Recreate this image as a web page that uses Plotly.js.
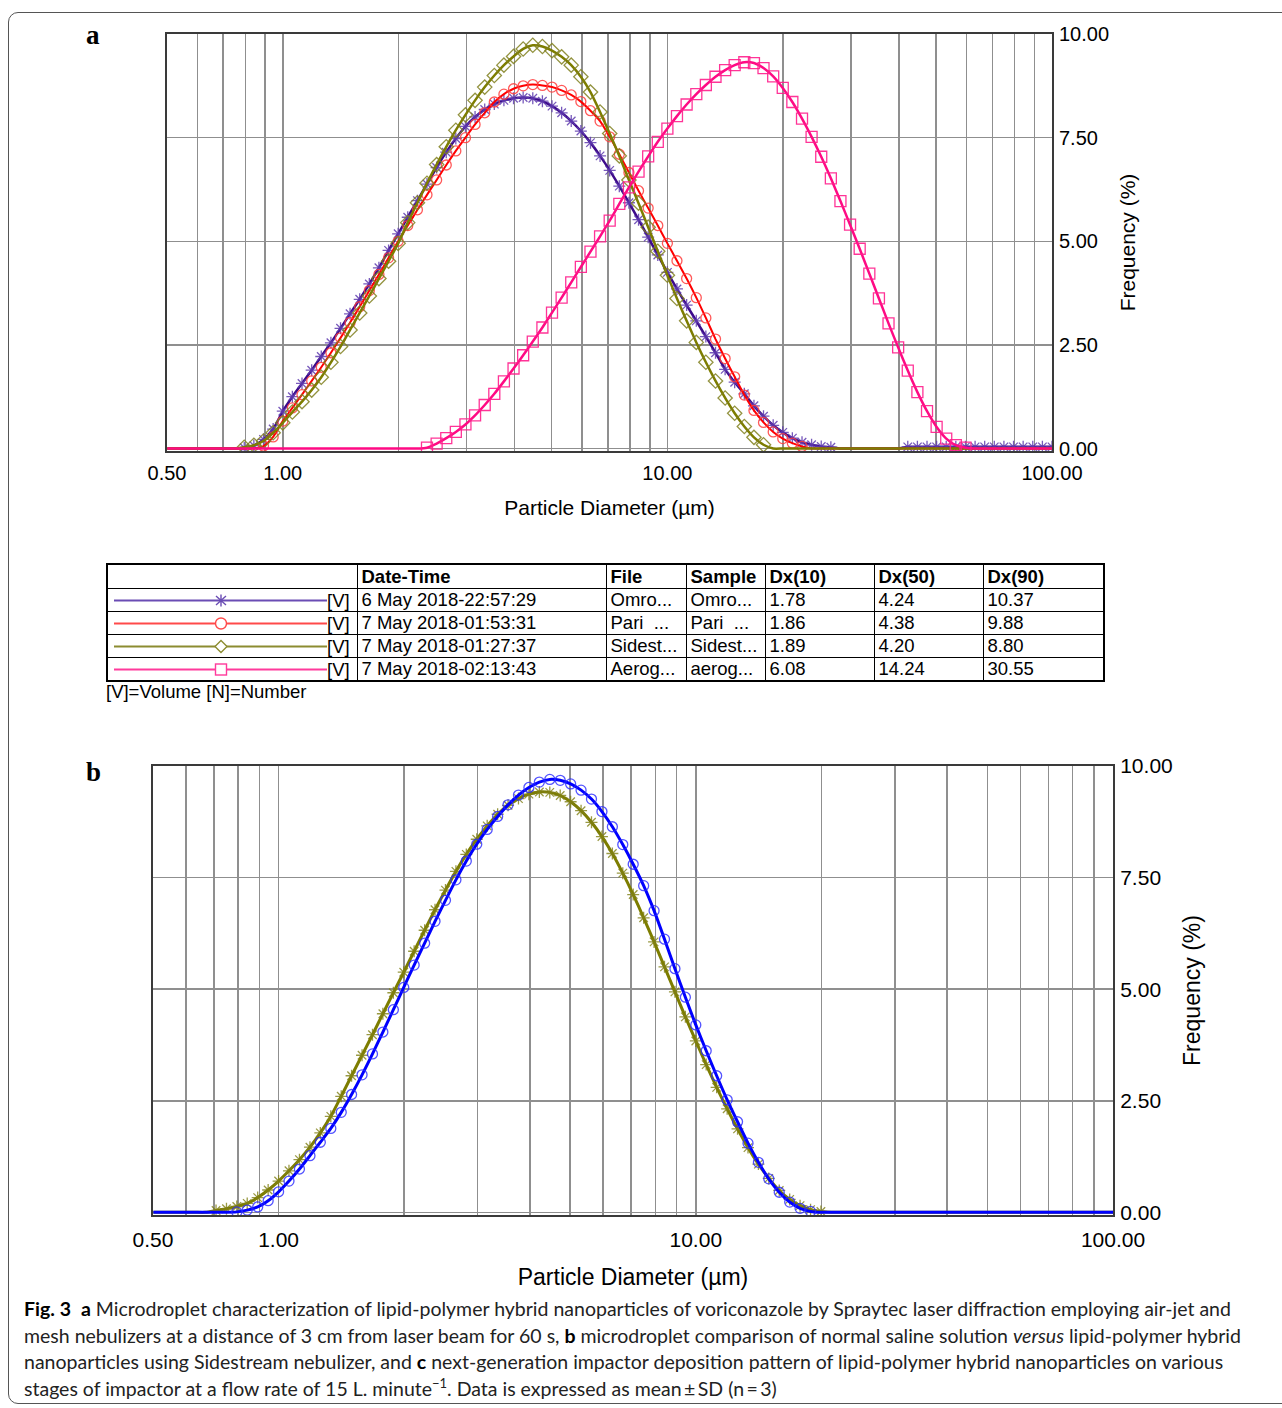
<!DOCTYPE html>
<html>
<head>
<meta charset="utf-8">
<script src="https://cdn.plot.ly/plotly-3.0.1.min.js"></script>
<style>
  html, body { margin:0; padding:0; background:#fff; width:1282px; height:1408px; overflow:hidden; }
  #frame { position:absolute; left:8px; top:12px; width:1300px; height:1392px; border:1.5px solid #555; border-radius:10px; box-sizing:border-box; }
  .panel { position:absolute; font-family:"Liberation Serif", serif; font-weight:bold; font-size:27px; color:#000; }
  #chartA { position:absolute; left:0; top:0; width:1282px; height:540px; }
  #chartB { position:absolute; left:0; top:740px; width:1282px; height:560px; }
  #tbl { position:absolute; left:106px; top:563px; width:997px; table-layout:fixed; border-collapse:collapse; font-family:"Liberation Sans", Arial, sans-serif; font-size:18.5px; color:#000; border:2px solid #000; }
  #tbl td { border:1.5px solid #000; padding:0 0 0 4px; height:22px; line-height:20px; white-space:nowrap; overflow:hidden; }
  #tbl tr.hd td { font-weight:bold; height:23px; }
  #tbl td.lg { padding:0; }
  #note { position:absolute; left:106px; top:681px; font-family:"Liberation Sans", Arial, sans-serif; font-size:18.5px; }
  #caption { position:absolute; left:24px; top:1296px; font-family:Lato, "Open Sans", sans-serif; font-size:19.5px; line-height:26.7px; color:#222; white-space:nowrap; }
  #caption b { font-weight:bold; color:#000; }
  #caption sup { font-size:13px; line-height:0; vertical-align:baseline; position:relative; top:-8px; }
</style>
</head>
<body>
<div id="frame"></div>
<div id="chartA"></div>
<div id="chartB"></div>
<div class="panel" style="left:86px; top:20px;">a</div>
<div class="panel" style="left:86px; top:757px;">b</div>
<table id="tbl"></table>
<div id="note">[V]=Volume [N]=Number</div>
<div id="caption"><b>Fig. 3</b>&nbsp; <b>a</b> Microdroplet characterization of lipid-polymer hybrid nanoparticles of voriconazole by Spraytec laser diffraction employing air-jet and<br>mesh nebulizers at a distance of 3 cm from laser beam for 60 s, <b>b</b> microdroplet comparison of normal saline solution <i>versus</i> lipid-polymer hybrid<br>nanoparticles using Sidestream nebulizer, and <b>c</b> next-generation impactor deposition pattern of lipid-polymer hybrid nanoparticles on various<br>stages of impactor at a flow rate of 15 L. minute<sup>−1</sup>. Data is expressed as mean&thinsp;±&thinsp;SD (n&thinsp;=&thinsp;3)</div>
<script>
// ---------- DATA ----------
// particle diameter size classes (µm)
const diameters = [0.501,0.531,0.562,0.596,0.631,0.668,0.708,0.750,0.794,0.841,0.891,0.944,
1.000,1.059,1.122,1.189,1.259,1.334,1.413,1.496,1.585,1.679,1.778,1.884,1.995,2.113,2.239,2.371,2.512,2.661,2.818,2.985,3.162,3.350,3.548,3.758,3.981,4.217,4.467,4.732,5.012,5.309,5.623,5.957,6.310,6.683,7.079,7.499,7.943,8.414,8.913,9.441,
10.00,10.59,11.22,11.89,12.59,13.34,14.13,14.96,15.85,16.79,17.78,18.84,19.95,21.13,22.39,23.71,25.12,26.61,28.18,29.85,31.62,33.50,35.48,37.58,39.81,42.17,44.67,47.32,50.12,53.09,56.23,59.57,63.10,66.83,70.79,74.99,79.43,84.14,89.13,94.41,100.0];

// panel a: frequency (%)
const omronA = [0,0,0,0,0,0,0,0, 0.02,0.07,0.22,0.47,
0.90,1.25,1.57,1.89,2.22,2.55,2.90,3.25,3.60,3.97,
4.36,4.78,5.18,5.58,5.98,6.38,6.78,7.15,7.48,7.77,
8.00,8.18,8.31,8.40,8.45,8.47,8.45,8.38,8.26,8.10,
7.90,7.66,7.38,7.06,6.71,6.33,5.93,5.52,5.10,4.67,
4.25,3.85,3.46,3.08,2.70,2.31,1.91,1.60,1.32,1.03,
0.78,0.56,0.39,0.25,0.15,0.09,0.05,0.03,0,0,
0,0,0,0,0,0.04,0.04,0.04,0.04,0.04,
0.04,0.04,0.04,0.04,0.04,0.04,0.04,0.04,0.04,0.04,0.04];

const pariA = [0,0,0,0,0,0,0,0,0,0, 0.06,0.28,
0.66,0.98,1.30,1.63,1.96,2.31,2.67,3.04,3.42,3.81,
4.20,4.60,5.00,5.38,5.76,6.12,6.48,6.84,7.18,7.50,
7.82,8.10,8.36,8.55,8.68,8.75,8.78,8.76,8.72,8.64,
8.53,8.37,8.15,7.90,7.52,7.10,6.66,6.22,5.80,5.38,
4.95,4.53,4.10,3.64,3.15,2.64,2.17,1.73,1.29,0.92,
0.63,0.40,0.24,0.13,0.05,0,0,0,0,0,
0,0,0,0,0,0,0,0,0,0,
0,0,0,0,0,0,0,0,0,0,0];

const sidestreamA = [0,0,0,0,0,0,0,0, 0.03,0.08,0.18,0.38,
0.62,0.88,1.13,1.41,1.72,2.08,2.46,2.86,3.27,3.68,
4.10,4.52,4.95,5.45,5.93,6.40,6.85,7.28,7.68,8.05,
8.40,8.72,9.00,9.25,9.46,9.64,9.73,9.70,9.60,9.45,
9.25,8.97,8.60,8.12,7.60,7.06,6.48,5.92,5.34,4.76,
4.18,3.62,3.08,2.56,2.08,1.63,1.22,0.85,0.53,0.27,
0.09,0,0,0,0,0,0,0,0,0,
0,0,0,0,0,0,0,0,0,0,
0,0,0,0,0,0,0,0,0,0,0];

const aerogenA = [0,0,0,0,0,0,0,0,0,0, 0,0,
0,0,0,0,0,0,0,0,0,0,
0,0,0,0,0,0.02,0.12,0.25,0.40,0.58,
0.80,1.05,1.32,1.62,1.93,2.25,2.58,2.92,3.28,3.64,
4.01,4.38,4.75,5.12,5.50,5.90,6.30,6.68,7.05,7.40,
7.72,8.02,8.30,8.55,8.77,8.97,9.13,9.25,9.32,9.30,
9.18,8.98,8.70,8.36,7.96,7.52,7.04,6.52,5.97,5.40,
4.82,4.22,3.62,3.02,2.44,1.88,1.36,0.90,0.52,0.24,
0.08,0.02,0,0,0,0,0,0,0,0,0];

// panel b: frequency (%)
const salineB = [0,0,0,0,0,0, 0.04,0.08,0.13,0.20,0.33,0.50,
0.70,0.93,1.18,1.46,1.78,2.15,2.60,3.06,3.52,3.98,
4.45,4.92,5.38,5.85,6.32,6.78,7.22,7.64,8.02,8.36,
8.66,8.92,9.12,9.27,9.37,9.42,9.41,9.34,9.20,9.00,
8.74,8.42,8.04,7.60,7.12,6.60,6.06,5.50,4.94,4.38,
3.84,3.31,2.80,2.32,1.87,1.45,1.08,0.76,0.49,0.29,
0.15,0.06,0.02,0,0,0,0,0,0,0,
0,0,0,0,0,0,0,0,0,0,
0,0,0,0,0,0,0,0,0,0,0];

const lphnB = [0,0,0,0,0,0,0,0, 0.01,0.05,0.12,0.26,
0.46,0.70,0.97,1.27,1.57,1.88,2.24,2.64,3.08,3.55,
4.04,4.54,5.04,5.54,6.03,6.52,6.99,7.45,7.87,8.25,
8.58,8.87,9.13,9.35,9.52,9.64,9.70,9.68,9.60,9.46,
9.26,8.98,8.64,8.24,7.80,7.32,6.76,6.12,5.46,4.82,
4.20,3.62,3.06,2.52,2.03,1.55,1.12,0.75,0.45,0.23,
0.09,0.02,0,0,0,0,0,0,0,0,
0,0,0,0,0,0,0,0,0,0,
0,0,0,0,0,0,0,0,0,0,0];

// axis ticks
const xTickVals = [0.5,0.6,0.7,0.8,0.9,1,2,3,4,5,6,7,8,9,10,20,30,40,50,60,70,80,90,100];
const xTickText = ['0.50','','','','','1.00','','','','','','','','','10.00','','','','','','','','','100.00'];
const yTickVals = [0,2.5,5,7.5,10];
const yTickText = ['0.00','2.50','5.00','7.50','10.00'];

// table
const tblHeader = ['', 'Date-Time', 'File', 'Sample', 'Dx(10)', 'Dx(50)', 'Dx(90)'];
const tblDates = ['6 May 2018-22:57:29', '7 May 2018-01:53:31', '7 May 2018-01:27:37', '7 May 2018-02:13:43'];
const tblFiles = ['Omro...', 'Pari  ...', 'Sidest...', 'Aerog...'];
const tblSamples = ['Omro...', 'Pari  ...', 'Sidest...', 'aerog...'];
const tblDx10 = ['1.78', '1.86', '1.89', '6.08'];
const tblDx50 = ['4.24', '4.38', '4.20', '14.24'];
const tblDx90 = ['10.37', '9.88', '8.80', '30.55'];

// ---------- STYLES ----------
const FONT = '"Liberation Sans", Arial, sans-serif';
const visible = arr => arr.map(v => v > 0 ? 1 : 0);

function series(y, lineColor, lineWidth, symbol, mColor, mSize) {
  return {
    x: diameters, y: y, type: 'scatter', mode: 'lines+markers',
    line: { color: lineColor, width: lineWidth, shape: 'spline', smoothing: 0.6 },
    marker: { symbol: symbol, size: mSize, color: mColor, opacity: visible(y), line: { width: 1.3, color: mColor } },
    hoverinfo: 'skip', showlegend: false
  };
}

function axes(tickSize, titleSize, xLen, yLen, xStand, yStand) {
  const common = { showgrid: true, gridcolor: '#8f8f8f', gridwidth: 1.5, showline: true, mirror: true,
    linecolor: '#3a3a3a', linewidth: 2, zeroline: false, ticks: 'outside',
    tickcolor: 'rgba(0,0,0,0)', tickfont: { family: FONT, size: tickSize, color: '#000' }, automargin: false };
  return {
    xaxis: Object.assign({}, common, { type: 'log', range: [Math.log10(0.5) - 1e-5, 2 + 1e-5],
      tickmode: 'array', tickvals: xTickVals, ticktext: xTickText, ticklen: xLen,
      title: { text: 'Particle Diameter (µm)', font: { family: FONT, size: titleSize, color: '#000' }, standoff: xStand } }),
    yaxis: Object.assign({}, common, { side: 'right', range: [-0.06, 10.001],
      tickmode: 'array', tickvals: yTickVals, ticktext: yTickText, ticklen: yLen,
      title: { text: 'Frequency (%)', font: { family: FONT, size: titleSize, color: '#000' }, standoff: yStand } })
  };
}

const layoutA = Object.assign({
  width: 1282, height: 540, margin: { l: 167, r: 230, t: 34, b: 89 },
  paper_bgcolor: 'rgba(0,0,0,0)', plot_bgcolor: '#fff', showlegend: false
}, axes(20, 21, 3, 1, 17, 12));

const tracesA = [
  series(omronA, '#3d0a8a', 2.5, 'asterisk-open', 'rgba(95,60,175,0.85)', 10),
  series(pariA, '#ff0000', 2, 'circle-open', 'rgba(255,60,60,0.85)', 10),
  series(sidestreamA, '#7d7d00', 2.5, 'diamond-open', 'rgba(128,128,30,0.85)', 11),
  series(aerogenA, '#ff0a84', 2.5, 'square-open', 'rgba(255,30,140,0.9)', 11)
];

const layoutB = Object.assign({
  width: 1282, height: 560, margin: { l: 153, r: 169, t: 26, b: 85 },
  paper_bgcolor: 'rgba(0,0,0,0)', plot_bgcolor: '#fff', showlegend: false
}, axes(21, 23, 5, 1, 19, 12));

const tracesB = [
  series(salineB, '#7d7d00', 3, 'asterisk-open', 'rgba(128,128,20,0.8)', 10),
  series(lphnB, '#0000ff', 3, 'circle-open', 'rgba(40,40,255,0.8)', 10)
];

const cfg = { staticPlot: true, displayModeBar: false };
Plotly.newPlot('chartA', tracesA, layoutA, cfg);
Plotly.newPlot('chartB', tracesB, layoutB, cfg);

// ---------- TABLE ----------
const legendStyles = [
  { color: '#6a4cb4', mark: 'asterisk' },
  { color: '#ff4a4a', mark: 'circle' },
  { color: '#8c8c30', mark: 'diamond' },
  { color: '#ff3a9c', mark: 'square' }
];
function legendSvg(s) {
  const cx = 113, cy = 11.5;
  let m = '';
  if (s.mark === 'asterisk') m = `<path d="M${cx} ${cy-6}V${cy+6}M${cx-5} ${cy-4.5}L${cx+5} ${cy+4.5}M${cx-5} ${cy+4.5}L${cx+5} ${cy-4.5}" stroke="${s.color}" stroke-width="1.4" fill="none"/>`;
  if (s.mark === 'circle') m = `<circle cx="${cx}" cy="${cy}" r="5.5" stroke="${s.color}" stroke-width="1.4" fill="#fff"/>`;
  if (s.mark === 'diamond') m = `<path d="M${cx} ${cy-6}L${cx+6} ${cy}L${cx} ${cy+6}L${cx-6} ${cy}Z" stroke="${s.color}" stroke-width="1.4" fill="#fff"/>`;
  if (s.mark === 'square') m = `<rect x="${cx-5.5}" y="${cy-5.5}" width="11" height="11" stroke="${s.color}" stroke-width="1.4" fill="#fff"/>`;
  return `<svg width="250" height="22" style="display:block"><line x1="6" y1="${cy}" x2="219" y2="${cy}" stroke="${s.color}" stroke-width="2"/>${m}<text x="219" y="18" font-family="Liberation Sans, Arial" font-size="18.5" fill="#000">[V]</text></svg>`;
}
const colW = [250, 249, 80, 79, 109, 109, 121];
let html = '<colgroup>' + colW.map(w => `<col style="width:${w}px">`).join('') + '</colgroup>';
html += '<tr class="hd">' + tblHeader.map(h => `<td>${h}</td>`).join('') + '</tr>';
for (let r = 0; r < 4; r++) {
  html += `<tr><td class="lg">${legendSvg(legendStyles[r])}</td><td>${tblDates[r]}</td><td>${tblFiles[r].replace(/ /g, '&nbsp;')}</td><td>${tblSamples[r].replace(/ /g, '&nbsp;')}</td><td>${tblDx10[r]}</td><td>${tblDx50[r]}</td><td>${tblDx90[r]}</td></tr>`;
}
document.getElementById('tbl').innerHTML = html;
</script>
</body>
</html>
